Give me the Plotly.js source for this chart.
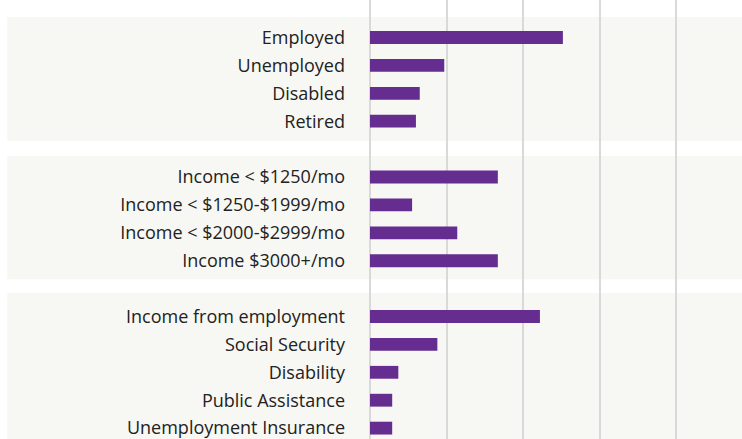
<!DOCTYPE html>
<html>
<head>
<meta charset="utf-8">
<script src="https://cdn.plot.ly/plotly-3.0.1.min.js"></script>
<style>
  html, body { margin: 0; padding: 0; background: #ffffff; }
  #chart { width: 742px; height: 439px; }
</style>
</head>
<body>
<div id="chart"></div>
<script>
// Categories (top to bottom), grouped
const employmentLabels = ["Employed", "Unemployed", "Disabled", "Retired"];
const employmentValues = [25.2, 9.7, 6.5, 6.0];

const incomeLabels = ["Income < $1250/mo", "Income < $1250-$1999/mo", "Income < $2000-$2999/mo", "Income $3000+/mo"];
const incomeValues = [16.7, 5.5, 11.4, 16.7];

const sourceLabels = ["Income from employment", "Social Security", "Disability", "Public Assistance", "Unemployment Insurance"];
const sourceValues = [22.2, 8.8, 3.7, 2.9, 2.9];

const spacers = [" ", "  "];

const categoryOrder = [].concat(employmentLabels, [spacers[0]], incomeLabels, [spacers[1]], sourceLabels);
const yCats = [].concat(employmentLabels, incomeLabels, sourceLabels);
const xVals = [].concat(employmentValues, incomeValues, sourceValues);

const purple = "#662d91";
const band = "#f7f7f3";

const trace = {
  type: "bar",
  orientation: "h",
  x: xVals,
  y: yCats,
  marker: { color: purple },
  width: 0.46,
  hoverinfo: "x+y"
};

function bandShape(y0, y1) {
  return {
    type: "rect", layer: "below",
    xref: "paper", yref: "y",
    x0: -0.975, x1: 1.0, y0: y0, y1: y1,
    fillcolor: band, line: { width: 0 }
  };
}

const layout = {
  width: 742, height: 439,
  margin: { l: 370, r: 0, t: 0, b: 0 },
  paper_bgcolor: "#ffffff",
  plot_bgcolor: "rgba(0,0,0,0)",
  showlegend: false,
  font: { family: "Open Sans, sans-serif", size: 18, color: "#222222" },
  xaxis: {
    range: [0, 48.6],
    dtick: 10,
    tick0: 0,
    showticklabels: false,
    showgrid: true,
    gridcolor: "#d9d9d9",
    gridwidth: 2,
    zeroline: true,
    zerolinecolor: "#d9d9d9",
    zerolinewidth: 2,
    showline: false,
    fixedrange: true
  },
  yaxis: {
    type: "category",
    categoryorder: "array",
    categoryarray: categoryOrder,
    range: [14.39, -1.344],
    showgrid: false,
    zeroline: false,
    showline: false,
    ticks: "",
    ticklabelstandoff: 24,
    tickfont: { family: "Open Sans, sans-serif", size: 18, color: "#222222" },
    fixedrange: true
  },
  shapes: [
    bandShape(-0.735, 3.71),
    bandShape(4.25, 8.66),
    bandShape(9.16, 16)
  ]
};

Plotly.newPlot("chart", [trace], layout, { displayModeBar: false, staticPlot: true });
</script>
</body>
</html>
